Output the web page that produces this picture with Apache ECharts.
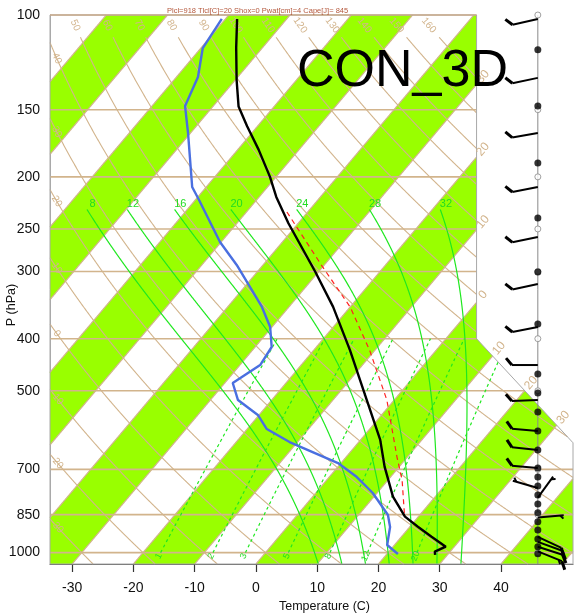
<!DOCTYPE html>
<html>
<head>
<meta charset="utf-8">
<script src="https://cdn.jsdelivr.net/npm/echarts@6/dist/echarts.min.js"></script>
<style>
html,body{margin:0;padding:0;background:#fff;}
#chart{width:576px;height:616px;}
</style>
</head>
<body>
<div id="chart"></div>
<script>
// ---- Sounding: environmental temperature (hPa, degC)
const tempP = [101.7, 115, 132, 148, 161, 178, 200, 218, 244, 300, 349, 420, 520, 617, 692, 787, 857, 895, 934, 975, 996, 1010];
const tempC = [-78.1, -74.3, -69.8, -65.8, -61.7, -56.6, -51.0, -47.2, -41.6, -30.6, -22.8, -14.1, -4.5, 3.2, 7.6, 13.1, 17.8, 21.3, 24.9, 28.6, 27.5, 28.0];

// ---- Dew point (hPa, degC)
const dewP = [101.7, 115.2, 130.4, 147.7, 165.8, 208.9, 220.8, 264.3, 291.7, 349.2, 380.5, 414.5, 447.8, 483.6, 520.2, 554.6, 589.1, 622.8, 681.4, 723.5, 774.7, 851.1, 896, 967.8, 1006];
const dewC = [-80.6, -79.7, -76.5, -74.6, -70.4, -62.3, -59.4, -50.2, -44.3, -34.4, -30.3, -27.3, -26.7, -28.7, -25.5, -20.2, -16.8, -11.3, -0.5, 4.5, 9.3, 14.8, 16.8, 18.8, 21.8];

// ---- Lifted parcel (hPa, degC)
const parcelP = [232.5, 294.2, 349.2, 420, 520.2, 664.1, 732.8, 858.5];
const parcelC = [-43.4, -30.0, -20.0, -10.9, -1.2, 8.3, 12.3, 17.8];

// ---- Winds (hPa, direction deg, speed kt)
const windP   = [101.7, 130.9, 165.8, 208.9, 258.7, 316.5, 380.5, 447.8, 520.2, 593.8, 644.6, 696, 758, 790, 860, 935, 955, 975, 995];
const windDir = [257, 258, 260, 259, 258, 258, 259, 270, 268, 275, 276, 275, 286, 36, 85, 115, 110, 108, 112];
const windKt  = [10, 10, 10, 10, 10, 10, 10, 10, 10, 10, 10, 10, 3, 3, 3, 10, 10, 10, 15];

// ---- Levels shown as dots on the wind staff
const levelDotP = [116.1, 147.7, 188.5, 238.5, 300.6, 375.6, 465.4, 504.8, 547.5, 593.8, 644.6, 696, 723.5, 751.7, 781.3, 812, 843, 876, 908, 943, 975, 1005];
const stdLevelP = [100, 150, 200, 250, 300, 400, 500, 700, 850, 1000];

// ---- Axis ticks and background families
const pressureTicks = [100, 150, 200, 250, 300, 400, 500, 700, 850, 1000];
const tempTicks = [-30, -20, -10, 0, 10, 20, 30, 40];
const isobarP = [150, 200, 250, 300, 400, 500, 700, 850, 1000];
const thetaLines = [-30, -20, -10, 0, 10, 20, 30, 40, 50, 60, 70, 80, 90, 100, 110, 120, 130, 140, 150, 160];
const moistLines = [8, 12, 16, 20, 24, 28, 32];
const mixLines = [1, 2, 3, 5, 8, 12, 20];
const isothermLabelT = [-30, -20, -10, 0, 10, 20, 30];

const headerText = 'Plcl=918 Tlcl[C]=20 Shox=0 Pwat[cm]=4 Cape[J]= 845';
const runName = 'CON_3D';

// ---- Skew-T transform (NCL-style coordinates)
const XMIN = -19.0, XMAX = 27.1, YMIN = -0.9346217, YMAX = 44.061;
const XCUT = 18.6, YCUT_TOP = 17.53, YCUT_BOT = 9.0;
const XBARB = 24.0;
function yOf(p) { return 132.182 - 44.061 * Math.log10(p); }
function xOf(t, p) { return 0.54 * t + 0.90692 * yOf(p); }
function diagY(x) { return YCUT_TOP - (x - XCUT) * (YCUT_TOP - YCUT_BOT) / (XMAX - XCUT); }
function inside(x, y) {
  if (x < XMIN - 1e-9 || x > XMAX + 1e-9 || y < YMIN - 1e-9 || y > YMAX + 1e-9) return false;
  if (x <= XCUT) return true;
  return y <= diagY(x) + 1e-9;
}

// pixel scale of the data units (used only for label angles)
const SX = 523 / (XMAX - XMIN), SY = 549 / (YMAX - YMIN);
function screenAngle(dx, dy) { return Math.atan2(dy * SY, dx * SX); }

// clip a polyline (data coords) to the plot outline, returning pieces
function clipPolyline(pts) {
  const out = [];
  let cur = [];
  const step = 0.05;
  const lerp = (a, b, t) => [a[0] + (b[0] - a[0]) * t, a[1] + (b[1] - a[1]) * t];
  for (let i = 0; i < pts.length - 1; i++) {
    const a = pts[i], b = pts[i + 1];
    const len = Math.hypot(b[0] - a[0], b[1] - a[1]);
    const n = Math.max(1, Math.ceil(len / step));
    for (let k = 0; k <= n; k++) {
      if (k === 0 && i > 0) continue;
      const t = k / n;
      const q = lerp(a, b, t);
      const ins = inside(q[0], q[1]);
      if (ins) {
        if (cur.length === 0 && (i > 0 || k > 0)) {
          let lo = (k > 0 ? (k - 1) / n : 0), hi = t;
          for (let it = 0; it < 20; it++) {
            const m = (lo + hi) / 2, qm = lerp(a, b, m);
            if (inside(qm[0], qm[1])) hi = m; else lo = m;
          }
          cur.push(lerp(a, b, hi));
        }
        cur.push(q);
      } else if (cur.length) {
        let lo = (k > 0 ? (k - 1) / n : 0), hi = t;
        for (let it = 0; it < 20; it++) {
          const m = (lo + hi) / 2, qm = lerp(a, b, m);
          if (inside(qm[0], qm[1])) lo = m; else hi = m;
        }
        cur.push(lerp(a, b, lo));
        if (cur.length > 1) out.push(cur);
        cur = [];
      }
    }
  }
  if (cur.length > 1) out.push(cur);
  return out;
}

// Sutherland-Hodgman against a convex polygon (counter-clockwise)
function clipConvex(subject, clip) {
  let output = subject;
  for (let i = 0; i < clip.length; i++) {
    const A = clip[i], B = clip[(i + 1) % clip.length];
    const inp = output; output = [];
    if (!inp.length) break;
    const side = p => (B[0] - A[0]) * (p[1] - A[1]) - (B[1] - A[1]) * (p[0] - A[0]);
    for (let j = 0; j < inp.length; j++) {
      const P = inp[j], Q = inp[(j + 1) % inp.length];
      const sp = side(P), sq = side(Q);
      if (sp >= 0) output.push(P);
      if ((sp >= 0) !== (sq >= 0)) {
        const t = sp / (sp - sq);
        output.push([P[0] + (Q[0] - P[0]) * t, P[1] + (Q[1] - P[1]) * t]);
      }
    }
  }
  return output;
}

const clipA = [[XMIN, YMIN], [XCUT, YMIN], [XCUT, YMAX], [XMIN, YMAX]];
const clipB = [[XCUT - 0.05, YMIN], [XMAX, YMIN], [XMAX, YCUT_BOT], [XCUT - 0.05, diagY(XCUT - 0.05)]];

// ---- shaded isotherm bands (every other 10 degC)
const bandPolys = [];
for (let t1 = -120; t1 <= 40; t1 += 20) {
  const t2 = t1 + 10;
  const quad = [
    [0.54 * t1 + 0.90692 * YMIN, YMIN], [0.54 * t2 + 0.90692 * YMIN, YMIN],
    [0.54 * t2 + 0.90692 * YMAX, YMAX], [0.54 * t1 + 0.90692 * YMAX, YMAX]
  ];
  [clipA, clipB].forEach(c => {
    const poly = clipConvex(quad, c);
    if (poly.length >= 3) bandPolys.push(poly);
  });
}

// ---- background line sets
const TAN = '#d2b48c';
const GREEN_LINE = '#1fe81f';
const bgLines = []; // {pts, color, width, dash}

// isotherms
for (let t = -110; t <= 50; t += 10) {
  const pts = [[0.54 * t + 0.90692 * YMIN, YMIN], [0.54 * t + 0.90692 * YMAX, YMAX]];
  clipPolyline(pts).forEach(s => bgLines.push({ pts: s, color: TAN, width: 1.2 }));
}
// isobars
isobarP.forEach(p => {
  const y = yOf(p);
  clipPolyline([[XMIN, y], [XMAX, y]]).forEach(s => bgLines.push({ pts: s, color: TAN, width: 1.6 }));
});
// dry adiabats
function dryT(theta, p) { return (theta + 273.15) * Math.pow(p / 1000, 0.2857) - 273.15; }
thetaLines.forEach(th => {
  const pts = [];
  for (let p = 1050; p >= 110; p -= 5) pts.push([xOf(dryT(th, p), p), yOf(p)]);
  pts.push([xOf(dryT(th, 110), 110), yOf(110)]);
  clipPolyline(pts).forEach(s => bgLines.push({ pts: s, color: TAN, width: 1.1 }));
});
// moist (pseudo) adiabats
const Rd = 287.04, Cp = 1005.7, Lv = 2.501e6, EPS = 0.622;
function esat(tc) { return 6.112 * Math.exp(17.67 * tc / (tc + 243.5)); }
function dTdp(Tk, p) {
  const e = esat(Tk - 273.15);
  const rs = EPS * e / (p - e);
  return (Rd * Tk + Lv * rs) / p / (Cp + Lv * Lv * rs * EPS / (Rd * Tk * Tk));
}
function moistPath(t1000, pEnd) {
  const h = 2;
  const rk = (T, p, dp) => {
    const k1 = dTdp(T, p);
    const k2 = dTdp(T + k1 * dp / 2, p + dp / 2);
    const k3 = dTdp(T + k2 * dp / 2, p + dp / 2);
    const k4 = dTdp(T + k3 * dp, p + dp);
    return T + dp * (k1 + 2 * k2 + 2 * k3 + k4) / 6;
  };
  let T = t1000 + 273.15, p = 1000;
  const down = [];
  while (p < 1050) { T = rk(T, p, h); p += h; down.push([p, T - 273.15]); }
  T = t1000 + 273.15; p = 1000;
  const up = [[1000, t1000]];
  while (p > pEnd) { const dp = -Math.min(h, p - pEnd); T = rk(T, p, dp); p += dp; up.push([p, T - 273.15]); }
  return down.reverse().concat(up);
}
const moistLabelPos = [];
moistLines.forEach(t0 => {
  const path = moistPath(t0, 230);
  const pts = path.map(q => [xOf(q[1], q[0]), yOf(q[0])]);
  clipPolyline(pts).forEach(s => bgLines.push({ pts: s, color: GREEN_LINE, width: 1.2 }));
  const top = path[path.length - 1];
  // label sits just above the upper end of the curve
  moistLabelPos.push({ x: xOf(top[1], top[0]) + 0.5, y: yOf(top[0]) + 0.45, text: String(t0) });
});
// mixing-ratio lines
function mixTd(w, p) {
  const e = w * p / (622 + w);
  const l = Math.log(e / 6.112);
  return 243.5 * l / (17.67 - l);
}
const mixLabelPos = [];
mixLines.forEach(w => {
  const pts = [];
  for (let p = 1000; p >= 400; p -= 10) pts.push([xOf(mixTd(w, p), p), yOf(p)]);
  clipPolyline(pts).forEach(s => bgLines.push({ pts: s, color: GREEN_LINE, width: 1.2, dash: [3, 3] }));
  const pl = 1015, pa = 990;
  const xa = xOf(mixTd(w, pl), pl), ya = yOf(pl);
  const xb = xOf(mixTd(w, pa), pa), yb = yOf(pa);
  mixLabelPos.push({ x: xa, y: ya, rot: screenAngle(xb - xa, yb - ya), text: String(w) });
});

// ---- labels (data coords + rotation in radians)
const labels = [];
// dry adiabat labels: along the top, or on the left edge
thetaLines.forEach(th => {
  const pTop = 104.5;
  const xt = xOf(dryT(th, pTop), pTop);
  let lp;
  if (xt > XMIN + 0.4) { lp = pTop; }
  else {
    let lo = 110, hi = 1050;
    const f = p => xOf(dryT(th, p), p) - (XMIN + 0.6);
    if (f(hi) < 0) return;
    for (let it = 0; it < 40; it++) { const m = (lo + hi) / 2; if (f(m) < 0) lo = m; else hi = m; }
    lp = (lo + hi) / 2;
  }
  const x0 = xOf(dryT(th, lp), lp), y0 = yOf(lp);
  const x1 = xOf(dryT(th, lp * 1.05), lp * 1.05), y1 = yOf(lp * 1.05);
  if (x0 > XCUT) return;
  labels.push({ x: x0, y: y0, rot: screenAngle(x1 - x0, y1 - y0), text: String(th), color: TAN, size: 10 });
});
// isotherm labels just outside the right outline
isothermLabelT.forEach(t => {
  let xi, yi;
  const yv = (XCUT - 0.54 * t) / 0.90692;
  if (yv >= YCUT_TOP) { xi = XCUT; yi = yv; }
  else {
    const k = (YCUT_TOP - YCUT_BOT) / (XMAX - XCUT);
    yi = (YCUT_TOP + XCUT * k - 0.54 * t * k) / (1 + 0.90692 * k);
    xi = 0.54 * t + 0.90692 * yi;
  }
  const dirx = 0.90692 * SX, diry = SY, nrm = Math.hypot(dirx, diry);
  const x = xi + (10 * dirx / nrm) / SX, y = yi + (10 * diry / nrm) / SY;
  labels.push({ x, y, rot: Math.atan2(diry, dirx), text: String(Math.abs(t)), color: TAN, size: 12 });
});
moistLabelPos.forEach(m => labels.push({ x: m.x, y: m.y, rot: 0, text: m.text, color: '#22dd22', size: 11 }));
mixLabelPos.forEach(m => labels.push({ x: m.x, y: m.y, rot: m.rot, text: m.text, color: '#22dd22', size: 9 }));

// outline
const outline = [[XMIN, YMIN], [XMIN, YMAX], [XCUT, YMAX], [XCUT, YCUT_TOP], [XMAX, YCUT_BOT], [XMAX, YMIN], [XMIN, YMIN]];

const FONT = '"Liberation Sans", Arial, Helvetica, sans-serif';

function toXY(pArr, tArr) { return pArr.map((p, i) => [xOf(tArr[i], p), yOf(p)]); }

const chart = echarts.init(document.getElementById('chart'), null, { renderer: 'canvas' });

const option = {
  animation: false,
  backgroundColor: '#ffffff',
  textStyle: { fontFamily: FONT },
  title: [
    { text: headerText, left: 162, top: 2, textStyle: { fontSize: 7.5, fontWeight: 'normal', color: '#b4583c', fontFamily: FONT } },
    { text: runName, left: 292, top: 41, textStyle: { fontSize: 52, fontWeight: 'normal', color: '#000', fontFamily: FONT } }
  ],
  graphic: [
    { type: 'text', x: 12, y: 305, rotation: Math.PI / 2, silent: true,
      style: { text: 'P (hPa)', fill: '#111', font: '12.5px ' + FONT, align: 'center', verticalAlign: 'middle', textAlign: 'center', textVerticalAlign: 'middle' } }
  ],
  grid: { left: 50, top: 15, width: 523, height: 549, containLabel: false, outerBoundsMode: 'none' },
  xAxis: {
    type: 'value', min: XMIN, max: XMAX,
    name: 'Temperature (C)', nameLocation: 'middle', nameGap: 35,
    nameTextStyle: { fontSize: 12.5, color: '#111', padding: [0, 0, 0, 26] },
    splitLine: { show: false },
    axisLine: { show: true, onZero: false, lineStyle: { color: '#555', width: 1 } },
    axisTick: { show: true, length: 8, customValues: tempTicks.map(t => xOf(t, 1050)), lineStyle: { color: '#333', width: 1.2 } },
    axisLabel: { customValues: tempTicks.map(t => xOf(t, 1050)), fontSize: 14, color: '#111', margin: 17,
      formatter: v => String(Math.round((v - 0.90692 * YMIN) / 0.54)) }
  },
  yAxis: {
    type: 'value', min: YMIN, max: YMAX,
    splitLine: { show: false },
    axisLine: { show: true, onZero: false, lineStyle: { color: '#aaa', width: 1 } },
    axisTick: { show: false },
    axisLabel: { customValues: pressureTicks.map(yOf), fontSize: 14, color: '#111', margin: 10,
      formatter: v => String(Math.round(Math.pow(10, (132.182 - v) / 44.061))) }
  },
  series: [
    {
      type: 'custom', name: 'bands', silent: true, z: 1,
      data: bandPolys.map(() => [0, 10]),
      renderItem: (params, api) => ({
        type: 'polygon',
        shape: { points: bandPolys[params.dataIndex].map(q => api.coord(q)) },
        style: { fill: '#99ff00', stroke: null }
      })
    },
    {
      type: 'custom', name: 'background lines', silent: true, z: 2,
      data: bgLines.map(() => [0, 10]),
      renderItem: (params, api) => {
        const l = bgLines[params.dataIndex];
        return {
          type: 'polyline',
          shape: { points: l.pts.map(q => api.coord(q)) },
          style: { stroke: l.color, lineWidth: l.width, lineDash: l.dash || null, fill: null }
        };
      }
    },
    {
      type: 'custom', name: 'outline', silent: true, z: 3,
      data: [[0, 10]],
      renderItem: (params, api) => ({
        type: 'group', children: [
          { type: 'polyline', shape: { points: outline.map(q => api.coord(q)) }, style: { stroke: '#a8a8a8', lineWidth: 1, fill: null } },
          { type: 'polyline', shape: { points: [api.coord([XBARB, YMIN]), api.coord([XBARB, YMAX])] }, style: { stroke: '#8a8a8a', lineWidth: 1, fill: null } },
          { type: 'polyline', shape: { points: [api.coord([XMIN, YMAX]), api.coord([XCUT, YMAX])] }, style: { stroke: '#c8aa8a', lineWidth: 1.4, fill: null } }
        ]
      })
    },
    {
      type: 'custom', name: 'labels', silent: true, z: 4,
      data: labels.map(() => [0, 10]),
      renderItem: (params, api) => {
        const l = labels[params.dataIndex];
        const c = api.coord([l.x, l.y]);
        return {
          type: 'text', x: c[0], y: c[1], rotation: l.rot,
          style: { text: l.text, x: 0, y: 0, fill: l.color, font: l.size + 'px ' + FONT,
            align: 'center', verticalAlign: 'middle', textAlign: 'center', textVerticalAlign: 'middle' }
        };
      }
    },
    {
      type: 'line', name: 'Parcel', data: toXY(parcelP, parcelC), showSymbol: false, z: 5,
      lineStyle: { color: '#ff2020', width: 1.2, type: [5, 4] }
    },
    {
      type: 'line', name: 'Dew point', data: toXY(dewP, dewC), showSymbol: false, z: 6,
      lineStyle: { color: '#4a6fe0', width: 2.4 }
    },
    {
      type: 'line', name: 'Temperature', data: toXY(tempP, tempC), showSymbol: false, z: 7,
      lineStyle: { color: '#000', width: 2.4 }
    },
    {
      type: 'scatter', name: 'std levels', data: stdLevelP.map(p => [XBARB, yOf(p)]), z: 8,
      symbol: 'circle', symbolSize: 6, itemStyle: { color: '#fff', borderColor: '#888', borderWidth: 1 }
    },
    {
      type: 'scatter', name: 'levels', data: levelDotP.map(p => [XBARB, yOf(p)]), z: 9,
      symbol: 'circle', symbolSize: 7, itemStyle: { color: '#000' }
    },
    {
      type: 'custom', name: 'Wind', z: 10, silent: true,
      data: windP.map((p, i) => [XBARB, yOf(p), windDir[i], windKt[i]]),
      renderItem: (params, api) => {
        const base = api.coord([api.value(0), api.value(1)]);
        const dir = api.value(2) * Math.PI / 180, spd = api.value(3);
        const ux = Math.sin(dir), uy = -Math.cos(dir); // toward where wind blows from
        const L = 26, full = 9, gap = 3.5;
        const tip = [base[0] + ux * L, base[1] + uy * L];
        const children = [{ type: 'line', shape: { x1: base[0], y1: base[1], x2: tip[0], y2: tip[1] }, style: { stroke: '#000', lineWidth: 2 } }];
        // feathers rotated from the staff direction
        const a = 50 * Math.PI / 180;
        const fx = ux * Math.cos(a) - uy * Math.sin(a), fy = ux * Math.sin(a) + uy * Math.cos(a);
        let s = Math.round(spd / 5) * 5, pos = 0;
        while (s >= 50) {
          const p0 = [tip[0] - ux * pos, tip[1] - uy * pos];
          const p2 = [tip[0] - ux * (pos + 5), tip[1] - uy * (pos + 5)];
          children.push({ type: 'polygon', shape: { points: [p0, [p0[0] + fx * full, p0[1] + fy * full], p2] }, style: { fill: '#000' } });
          pos += 6; s -= 50;
        }
        while (s >= 10) {
          const p0 = [tip[0] - ux * pos, tip[1] - uy * pos];
          children.push({ type: 'line', shape: { x1: p0[0], y1: p0[1], x2: p0[0] + fx * full, y2: p0[1] + fy * full }, style: { stroke: '#000', lineWidth: 3 } });
          pos += gap; s -= 10;
        }
        if (s >= 5) {
          if (pos === 0) pos = gap;
          const p0 = [tip[0] - ux * pos, tip[1] - uy * pos];
          children.push({ type: 'line', shape: { x1: p0[0], y1: p0[1], x2: p0[0] + fx * full / 2, y2: p0[1] + fy * full / 2 }, style: { stroke: '#000', lineWidth: 2 } });
        }
        return { type: 'group', children };
      }
    }
  ]
};
chart.setOption(option);
</script>
</body>
</html>
